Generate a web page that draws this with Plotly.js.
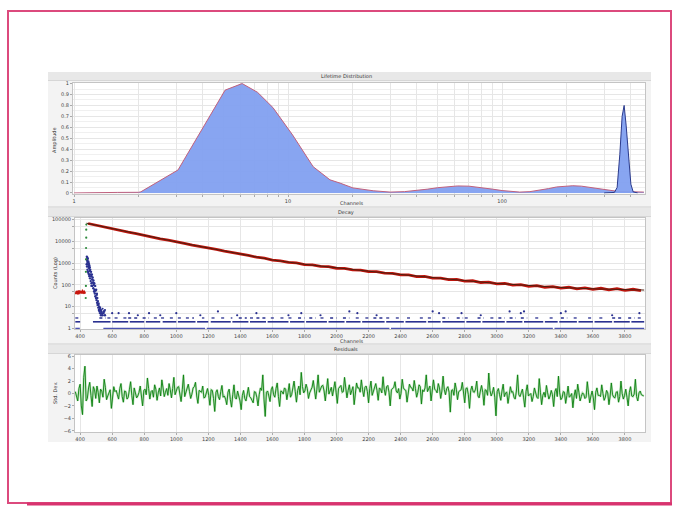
<!DOCTYPE html>
<html><head><meta charset="utf-8">
<script src="https://cdn.plot.ly/plotly-3.0.1.min.js"></script>
<style>html,body{margin:0;padding:0;background:#fff;}#chart{width:679px;height:509px;}</style>
</head><body><div id="chart"></div>
<script>
// ---------- Lifetime distribution ----------
const ltChannels = [1, 1.2, 1.6, 2.0, 2.05, 3.06, 5.08, 6.1, 7.2, 8.5, 10.5, 13.1, 15.7, 17.5, 20.1, 25, 30, 35, 40, 45, 50, 56, 62, 70, 80, 90, 100, 110, 121, 135, 150, 165, 180, 195, 214, 235, 260, 290, 320, 345, 380, 420, 460];
const ltAmplitude = [0, 0.004, 0.005, 0.006, 0.01, 0.21, 0.94, 1.0, 0.92, 0.78, 0.53, 0.24, 0.12, 0.09, 0.046, 0.02, 0.008, 0.012, 0.022, 0.035, 0.048, 0.058, 0.064, 0.062, 0.05, 0.035, 0.022, 0.012, 0.008, 0.012, 0.025, 0.04, 0.055, 0.063, 0.066, 0.062, 0.05, 0.035, 0.022, 0.015, 0.012, 0.01, 0.008];
const spikeChannels = [300, 335, 345, 355, 364, 372, 380, 390, 400, 410, 430];
const spikeAmplitude = [0.0, 0.005, 0.05, 0.35, 0.7, 0.8, 0.62, 0.3, 0.08, 0.01, 0.0];
const ltTickVals = [1,2,3,4,5,6,7,8,9,10,20,30,40,50,60,70,80,90,100,200,300,400];
const ltTickText = ['1','','','','','','','','','10','','','','','','','','','100','','',''];

// ---------- Decay ----------
const preChannels = [370,375,380,385,390,395,400,405,410,415,420,425,430];
const preCounts = [46,40,52,44,38,55,43,49,41,50,45,47,39];
const decayStart = 450, decayStep = 50;
const decayCounts = [67100,55300,46900,38600,32800,26900,23000,18900,16200,13300,11550,9420,8250,6830,5990,4930,4340,3560,3150,2580,2300,1890,1690,1380,1290,1090,1030,865,835,712,690,585,575,490,484,410,406,346,343,290,289,243,244,205,207,175,180,150,155,129,134,111,116,98,103,86,92,78,84,71,78,66,73,62,70,59,67,56,63,54];
const fitChannels = [440,600,800,1000,1200,1400,1600,1800,2000,2200,2400,2600,2800,3000,3200,3400,3600,3800,3920];
const fitCounts = [69200,38900,19100,9550,5010,2630,1410,891,603,427,302,214,158,117,91,76,66,60,58];
const riseChannels = [435,436,436,437,437,438,438,439];
const riseCounts = [25,90,400,1500,5000,15000,35000,60000];
const irfChannels = [440,441,442,443,444,445,446,447,448,449,450,451,452,453,454,455,456,457,458,459,460,462,463,465,466,468,470,471,473,475,476,478,480,482,483,485,487,488,490,492,494,495,497,499,500,502,504,506,507,509,511,513,515,517,519,521,523,525,527,530,533,536,540,545,550,555];
const irfCounts = [1500,900,2000,700,1300,1800,500,1100,1600,400,900,1200,350,700,1000,300,600,800,250,450,650,200,500,300,150,400,250,120,300,180,90,220,130,70,160,100,50,120,60,40,90,30,55,25,60,20,35,15,25,12,18,9,14,7,10,6,8,5,7,4,6,5,4,5,6,4];
const floor1Segments = [[370,398],[545,1180],[1190,2330],[2340,3350],[3360,3920]];
const floor2Segments = [[370,400],[480,590],[600,700],[710,800],[810,900],[915,1000],[1010,1120],[1130,1200],[1215,1340],[1350,1450],[1460,1560],[1570,1700],[1710,1800],[1810,1940],[1950,2050],[2060,2150],[2160,2300],[2310,2420],[2430,2560],[2570,2650],[2660,2800],[2810,2900],[2910,3050],[3060,3160],[3170,3290],[3300,3380],[3390,3500],[3510,3600],[3610,3720],[3730,3830],[3840,3920]];
const floor3Segments = [[370,395],[520,560],[570,600],[615,650],[670,690],[700,760],[790,830],[860,880],[905,925],[960,980],[1010,1030],[1060,1080],[1100,1110],[1160,1175],[1220,1240],[1280,1300],[1340,1350],[1390,1440],[1460,1480],[1500,1560],[1590,1620],[1650,1670],[1700,1720],[1760,1800],[1830,1870],[1900,1930],[1960,2000],[2040,2080],[2120,2140],[2180,2210],[2230,2290],[2310,2330],[2370,2400],[2440,2470],[2520,2540],[2570,2600],[2660,2700],[2750,2790],[2800,2830],[2880,2920],[2960,2980],[3010,3050],[3080,3120],[3150,3190],[3240,3260],[3330,3360],[3400,3440],[3480,3510],[3570,3590],[3640,3660],[3720,3780],[3820,3860],[3880,3910]];
const floorLevels = [1, 2, 3];
const strayChannels = [470,490,505,515,525,530,540,548,555,600,640,705,760,830,900,1000,1150,1260,1380,1500,1700,1780,1900,2080,2130,2250,2600,2640,2780,2900,3080,3150,3170,3400,3430,3720,3890];
const strayCounts = [90,50,40,12,9,7,8,6,7,5,5,5,4,5,4,5,4,6,4,5,4,5,4,6,5,4,6,5,5,4,6,5,6,5,6,4,5];
const decayTickVals = [1,5,10,50,100,500,1000,5000,10000,50000,100000];
const decayTickText = ['1','','10','','100','','1000','','10000','','100000'];
const channelTicks = [400,600,800,1000,1200,1400,1600,1800,2000,2200,2400,2600,2800,3000,3200,3400,3600,3800];

// ---------- Residuals ----------
const resStart = 370, resStep = 15;
const residualsA = [
0.3,-1.2,1.5,-3.4,4.4,-0.8,1.8,-2.1,0.6,1.2,-1.5,0.4,2.3,-1.0,0.2,-2.4,1.1,0.5,-0.9,1.6,
-1.4,0.3,-0.6,1.9,-1.8,0.1,-0.4,1.2,-2.0,0.7,2.5,-0.9,0.5,1.4,-1.1,0.9,2.2,-0.5,0.8,1.6,
-0.7,2.6,0.4,1.1,-1.3,3.0,0.2,1.5,-0.8,0.9,1.8,-1.6,0.3,1.2,-0.6,0.8,-1.9,0.5,-2.9,0.6,
-1.0,1.3,-0.4,-1.8,0.7,-2.2,1.4,-0.9,-0.3,-2.6,0.5,-1.2,1.0,-0.7,-1.5,0.2,-2.0,0.9,3.0,-3.7,
0.4,-1.3,1.1,-0.6,1.7,-2.1,0.3,0.9,-1.0,1.6,-0.2,2.0,-1.4,1.2,3.4,0.1,1.5,-0.8,0.6,2.1,
-0.9,3.0,0.8,1.3,-1.2,2.4,0.5,-0.4,1.9,-1.6,1.0,0.2,2.6,-0.7,1.4,0.6,-1.8,1.7,0.9,2.2,
-0.5,1.2,-1.5,2.0,0.4,1.6,-1.1,0.7,2.7,-0.3,1.3,-2.0,0.8,1.9,0.1,-0.9,2.3,0.6,-1.4,1.5,
0.9,2.1,-0.6,1.4,-1.7,0.3,3.0,0.7,-1.2,2.2,0.5,1.6,-0.8,2.8,-0.2,1.1,-3.0,0.6,1.7,-1.0,
0.4,1.8,-1.5,0.9,-2.4,1.2,0.2,2.0,-0.7,1.3,-1.9,0.5,3.3,-0.4,1.0,-3.6,0.8,-1.1,1.5,0.1,
-1.6,1.1,0.3,-0.9,3.0,-0.5,0.7,-2.2,1.4,-0.1,-1.3,0.9,-0.6,2.4,-1.8,0.2,1.3,-0.9,0.5,-2.1,
0.8,2.8,-1.0,0.3,-1.6,1.2,-0.4,-2.3,0.6,1.5,-1.2,0.1,-0.8,1.9,-1.5,0.4,-2.6,0.9,-0.3,1.4,
-1.1,0.5,-1.8,1.7,-0.6,0.2,-1.4,2.0,-0.9,0.7,-2.0,1.1,-0.5,2.3,-1.2,0.4,-0.3];
const residualsB = [
-0.5,0.8,-2.0,2.6,-1.2,0.9,-0.3,1.1,-0.8,0.2,0.7,-0.6,1.0,-0.4,0.6,-0.9,0.3,-0.2,0.8,-0.5,
0.4,-0.9,0.6,-0.3,0.9,-0.7,0.2,-1.1,0.5,-0.2,0.8,0.3,-0.6,0.7,0.1,-0.4,0.9,0.2,-0.3,0.6,
0.8,-0.2,1.0,0.1,0.6,-0.5,0.9,0.3,-0.1,1.1,-0.4,0.5,0.2,-0.7,0.4,-0.3,0.6,-0.8,0.2,-0.5,
0.3,-0.6,-0.9,0.2,-1.0,-0.2,-0.7,0.4,-1.2,-0.3,-0.8,0.1,-0.5,-1.1,0.3,-0.6,-0.2,0.5,-0.9,0.2,
-0.4,0.6,-0.2,0.8,-0.5,0.4,-0.1,0.7,0.2,-0.6,0.9,0.3,0.5,-0.2,1.1,0.4,0.8,0.1,1.0,0.3,
0.7,0.2,1.2,0.4,0.9,-0.1,1.0,0.6,0.2,0.8,1.3,0.3,0.7,0.5,-0.2,1.1,0.4,0.9,0.2,0.6,
1.0,0.3,0.8,-0.3,1.2,0.5,0.9,0.1,0.7,1.1,0.2,0.6,1.0,0.4,0.8,0.0,0.9,0.5,0.3,1.0,
0.4,0.8,0.2,1.1,0.6,0.9,0.3,1.2,0.5,0.7,0.1,0.9,0.4,0.6,0.8,0.2,0.5,-0.3,0.7,0.3,
0.6,0.1,0.8,-0.2,0.5,0.3,0.7,-0.4,0.4,0.2,0.6,-0.3,0.5,0.1,-0.6,0.3,-0.2,0.4,-0.5,0.2,
-0.3,0.2,-0.6,0.4,-0.2,0.1,-0.7,0.3,-0.4,0.0,-0.5,0.3,-0.8,0.2,-0.3,-0.6,0.1,-0.4,-0.2,0.3,
-0.5,0.1,-0.7,0.2,-0.3,-0.6,0.0,-0.4,-0.8,0.2,-0.5,-0.1,-0.6,0.1,-0.4,-0.7,0.2,-0.3,-0.5,0.0,
-0.6,0.1,-0.4,-0.2,-0.7,0.3,-0.5,0.0,-0.3,-0.6,0.2,-0.4,-0.1,-0.5,0.1,-0.2,-0.4];
const resTicks = [-6,-4,-2,0,2,4,6];

// ---------- build ----------
const decayChannels = decayCounts.map((_, i) => decayStart + i * decayStep);
const resChannels = [], residuals = [];
residualsA.forEach((v, i) => {
  resChannels.push(resStart + i * resStep); residuals.push(v);
  if (i < residualsB.length) { resChannels.push(resStart + i * resStep + resStep / 2); residuals.push(residualsB[i]); }
});
function segTrace(segs, level) {
  const xs = [], ys = [];
  segs.forEach(s => { xs.push(s[0], s[1], null); ys.push(level, level, null); });
  return {xs, ys};
}
const f1 = segTrace(floor1Segments, floorLevels[0]);
const f2 = segTrace(floor2Segments, floorLevels[1]);
const f3 = segTrace(floor3Segments, floorLevels[2]);

const navy = '#2a3190';
const blueFill = 'rgba(130,160,240,0.95)';
const traces = [
  {x: ltChannels, y: ltAmplitude, xaxis:'x', yaxis:'y', type:'scatter', mode:'lines', fill:'tozeroy', fillcolor: blueFill, line:{color:'#c0607c', width:1}},
  {x: spikeChannels, y: spikeAmplitude, xaxis:'x', yaxis:'y', type:'scatter', mode:'lines', fill:'tozeroy', fillcolor: blueFill, line:{color:'#2b3a8c', width:1}},
  {x: f1.xs, y: f1.ys, xaxis:'x2', yaxis:'y2', mode:'lines', line:{color:'#4a52b0', width:1.3}, connectgaps:false},
  {x: f2.xs, y: f2.ys, xaxis:'x2', yaxis:'y2', mode:'lines', line:{color:navy, width:1.6}, connectgaps:false},
  {x: f3.xs, y: f3.ys, xaxis:'x2', yaxis:'y2', mode:'lines', line:{color:navy, width:1.3, dash:'dot'}, connectgaps:false},
  {x: strayChannels, y: strayCounts, xaxis:'x2', yaxis:'y2', mode:'markers', marker:{color:navy, size:2.2}},
  {x: irfChannels, y: irfCounts, xaxis:'x2', yaxis:'y2', mode:'markers', marker:{color:navy, size:2.4}},
  {x: riseChannels, y: riseCounts, xaxis:'x2', yaxis:'y2', mode:'markers', marker:{color:'#2e8b3e', size:2.2}},
  {x: preChannels, y: preCounts, xaxis:'x2', yaxis:'y2', mode:'lines', line:{color:'#c8160e', width:2.5}},
  {x: decayChannels, y: decayCounts, xaxis:'x2', yaxis:'y2', mode:'lines', line:{color:'#c0140c', width:2.8}},
  {x: fitChannels, y: fitCounts, xaxis:'x2', yaxis:'y2', mode:'lines', line:{color:'#4a2010', width:1}},
  {x: resChannels, y: residuals, xaxis:'x3', yaxis:'y3', mode:'lines', line:{color:'rgba(110,190,110,0.45)', width:2.2}},
  {x: resChannels, y: residuals, xaxis:'x3', yaxis:'y3', mode:'lines', line:{color:'#0b800f', width:0.9}}
];

const W = 679, H = 509;
const px = v => v / W;
const py = v => 1 - v / H;
const tf = {size:5, color:'#444', family:'DejaVu Sans'};
const axBase = {showline:true, linecolor:'#c4c4c4', mirror:true, gridcolor:'#e6e6e6', gridwidth:1, tickfont:tf, zeroline:false, ticks:'outside', ticklen:2, tickcolor:'#aaa', fixedrange:true};

function rect(x0,y0,x1,y1,fill,line,layer){
  return {type:'rect', xref:'paper', yref:'paper', x0:px(x0), x1:px(x1), y0:py(y1), y1:py(y0), fillcolor:fill, line: line || {width:0}, layer: layer || 'below'};
}
function hline(x0,x1,y,color,w){
  return {type:'line', xref:'paper', yref:'paper', x0:px(x0), x1:px(x1), y0:py(y), y1:py(y), line:{color:color, width:w}, layer:'below'};
}
const shapes = [
  rect(48,72,651,442,'#f3f3f3'),
  rect(48,72,651,80,'#e8e8e8'),
  rect(48,208,651,216,'#e8e8e8'),
  rect(48,345,651,353,'#e8e8e8'),
  hline(48,651,207,'#cfcfcf',1),
  hline(48,651,344,'#cfcfcf',1),
  hline(48,651,80.5,'#d6d6d6',1),
  hline(48,651,216.5,'#d6d6d6',1),
  hline(48,651,353.5,'#d6d6d6',1),
  rect(73,83,645,193.5,'#ffffff'),
  rect(75,218,645,329,'#ffffff'),
  rect(75,355,645,432,'#ffffff'),
  // pink frame
  {type:'rect', xref:'paper', yref:'paper', x0:px(8), x1:px(671), y0:py(503), y1:py(11), line:{color:'#dc4a7d', width:2}, fillcolor:'rgba(0,0,0,0)', layer:'above'},
  {type:'line', xref:'paper', yref:'paper', x0:px(27), x1:px(672), y0:py(504), y1:py(504), line:{color:'#d8336f', width:3}, layer:'above'}
];

function ann(text, x, y, opts){
  return Object.assign({text:text, xref:'paper', yref:'paper', x:px(x), y:py(y), showarrow:false, font:{size:5, color:'#333', family:'DejaVu Sans'}, xanchor:'center', yanchor:'middle'}, opts || {});
}
const annotations = [
  ann('Lifetime Distribution', 346, 76),
  ann('Decay', 346, 212),
  ann('Residuals', 346, 349),
  ann('Channels', 352, 203),
  ann('Channels', 352, 341),
  ann('Amplitude', 55, 140, {textangle:-90}),
  ann('Counts (Log)', 55, 273, {textangle:-90}),
  ann('Std. Dev.', 55, 393, {textangle:-90})
];

const layout = {
  width: W, height: H, margin:{l:0,r:0,t:0,b:0},
  paper_bgcolor:'#ffffff', plot_bgcolor:'#ffffff', showlegend:false,
  xaxis: Object.assign({}, axBase, {type:'log', domain:[px(73), px(645)], range:[-0.005, 2.668], tickvals: ltTickVals, ticktext: ltTickText, anchor:'y'}),
  yaxis: Object.assign({}, axBase, {domain:[py(193.5), py(83)], range:[-0.005, 1.005], dtick:0.1, tick0:0, minor:{dtick:0.05, showgrid:true, gridcolor:'#f0f0f0'}, anchor:'x'}),
  xaxis2: Object.assign({}, axBase, {domain:[px(75), px(645)], range:[368, 3925], tickvals: channelTicks, anchor:'y2'}),
  yaxis2: Object.assign({}, axBase, {type:'log', domain:[py(329), py(218)], range:[-0.03, 5.08], tickvals: decayTickVals, ticktext: decayTickText, anchor:'x2'}),
  xaxis3: Object.assign({}, axBase, {domain:[px(75), px(645)], range:[368, 3925], tickvals: channelTicks, anchor:'y3'}),
  yaxis3: Object.assign({}, axBase, {domain:[py(432), py(355)], range:[-6.2, 6.2], tickvals: resTicks, showgrid:false, anchor:'x3'}),
  shapes: shapes,
  annotations: annotations
};
Plotly.newPlot('chart', traces, layout, {staticPlot:true, displayModeBar:false});
</script>
</body></html>
